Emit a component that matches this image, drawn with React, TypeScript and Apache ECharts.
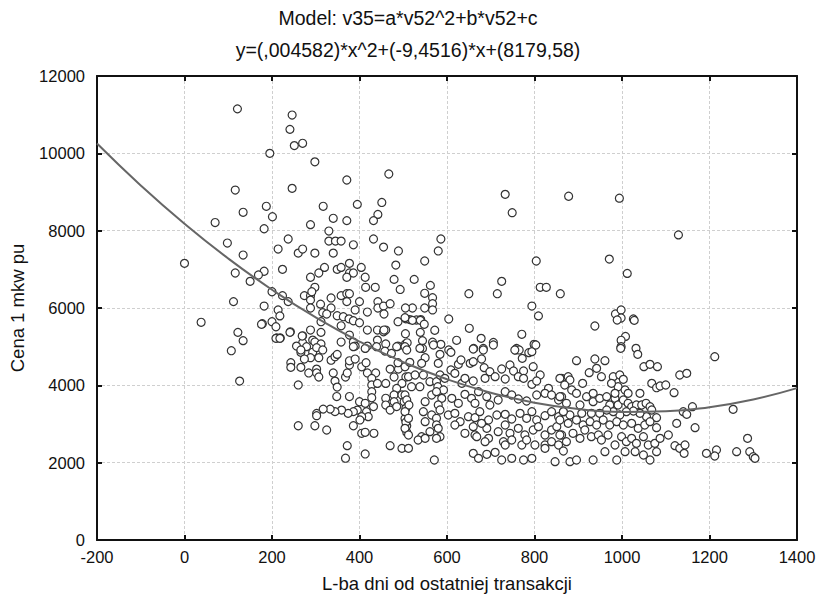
import React, { useEffect, useRef } from "react";
import * as echarts from "echarts";

const titleLine1 = "Model: v35=a*v52^2+b*v52+c";
const titleLine2 = "y=(,004582)*x^2+(-9,4516)*x+(8179,58)";
const xAxisName = "L-ba dni od ostatniej transakcji";
const yAxisName = "Cena 1 mkw pu";

// [days since last transaction, price per m2]
const upperPoints: [number, number][] = [
  [121,11150],[246,10990],[241,10620],[251,10200],[270,10260],[195,10000],[298,9780],[371,9310],[467,9465],[116,9050],[246,9095],[187,8630],[134,8475],[201,8360],[317,8630],[395,8680],[451,8730],[442,8420],[432,8260],[340,8320],[371,8260],[70,8210],[288,8155],[182,8050],[330,7990],[330,7730],[345,7730],[358,7730],[386,7635],[237,7785],[98,7680],[432,7785],[455,7575],[214,7525],[134,7370],[260,7420],[270,7525],[298,7420],[340,7420],[0,7155],[224,7000],[116,6905],[182,6950],[169,6855],[150,6690],[320,7050],[307,6905],[349,7000],[358,7050],[377,7155],[377,6905],[386,6905],[371,6795],[404,7050],[413,6795],[414,6535],[436,6535],[288,6795],[298,6535],[200,6420],[224,6320],[274,6320],[288,6320],[291,6420],[358,6320],[371,6370],[377,6370],[112,6165],[182,6050],[237,6165],[288,6205],[288,6000],[311,6100],[335,6260],[335,6000],[371,6165],[400,6165],[390,5950],[418,5895],[442,6165],[442,6000],[455,6050],[214,5950],[218,5795],
  [733,8940],[749,8465],[878,8890],[994,8840],[1129,7890],[586,7785],[580,7475],[489,7475],[483,7110],[549,7215],[804,7215],[971,7265],[1012,6895],[479,6740],[525,6740],[562,6585],[493,6480],[549,6380],[567,6265],[567,6110],[567,5950],[549,6000],[521,6000],[650,6370],[715,6370],[725,6690],[813,6535],[827,6535],[859,6370],[794,6050],[809,5795],[470,6110],[985,5845],[998,5950],[998,5740],[1026,5715],[604,5715],[515,5700],[530,5690],[540,5700],
];

const middlePoints: [number, number][] = [
  [505,6000],[316,5880],[325,5845],[349,5800],[363,5775],[376,5720],[386,5670],[400,5620],[488,5645],[506,5720],[178,5595],[200,5645],[312,5645],[358,5540],[242,5385],[288,5430],[312,5370],[270,5280],[211,5225],[219,5225],[293,5170],[298,5120],[312,5070],[358,5120],[377,5300],[386,5120],[418,5430],[441,5430],[455,5385],[460,5430],[441,5170],[460,5070],[505,5335],[505,5070],[488,5015],[418,5015],[390,5015],[274,5015],[270,5100],[256,5015],
  [504,5750],[521,5680],[539,5680],[548,5580],[572,5425],[539,5370],[509,5100],[544,5155],[567,5115],[586,5060],[544,4955],[651,5475],[678,5215],[706,5110],[622,5165],[771,5320],[799,5060],[661,4955],[683,4955],[759,4955],[604,4915],
  [989,5690],[1028,5680],[938,5535],[1008,5265],[998,5165],[998,5000],[456,5845],[456,5430],[757,4915],[765,4915],[787,4845],
  [38,5630],[122,5370],[134,5155],[107,4895],[126,4110],[176,5580],[209,5515],[209,5215],[218,5215],[241,5370],[269,5275],
];

const leftDensePoints: [number, number][] = [
  [266,4855],[279,5000],[293,4855],[302,4975],[316,4915],[307,4715],[288,4715],[274,4680],[266,4915],[243,4585],[243,4465],[266,4465],[284,4320],[302,4420],[302,4320],[307,4215],[335,4650],[344,4740],[349,4800],[340,4320],[344,4110],[349,3955],[368,4215],[372,4320],[377,4525],[377,4635],[390,4680],[386,5000],[413,4955],[439,5000],[458,4885],[473,4825],[485,5000],[504,5000],
  [405,4480],[415,4585],[418,4320],[437,4320],[428,4180],[428,4010],[428,3835],[428,3680],[441,4050],[460,4050],[470,4420],[479,4215],[489,4420],[488,4585],[504,4480],[506,4215],[497,4050],[485,3920],[479,3750],[497,3750],[502,3575],[479,3575],[460,3665],[460,3490],[470,3360],[485,3450],[506,3405],[504,3145],
  [260,4010],[348,3710],[377,3710],[400,3575],[413,3535],[432,3450],[416,3320],[420,3190],[395,3360],[386,3320],[374,3275],[359,3360],[344,3320],[333,3385],[317,3385],[302,3275],[302,3215],[405,3190],[401,3105],[386,2955],[405,2760],[413,2785],[433,2760],[260,2955],[298,2955],[325,2845],[372,2440],[413,2225],[368,2115],[470,2440],[497,2370],[508,2785],[508,2955],[506,3045],
];

const centerDensePoints: [number, number][] = [
  [508,4914],[538,4957],[550,4715],[569,5043],[584,4802],[609,4853],[660,4940],[683,4914],[706,5043],[755,4914],[772,4698],[794,4871],[803,5043],
  [515,4595],[542,4569],[580,4569],[609,4397],[626,4543],[632,4655],[653,4569],[660,4612],[679,4681],[685,4457],[698,4353],[725,4422],[744,4526],[752,4371],[775,4371],[797,4483],[813,4267],[862,4181],
  [512,4224],[527,4267],[546,4267],[561,4095],[576,4095],[584,4267],[595,4181],[618,4310],[634,4052],[641,4181],[660,4112],[687,4181],[710,4224],[733,4164],[763,4224],[775,4181],[794,4026],[805,4112],[832,3922],[538,3965],[519,3965],[579,3965],[592,3879],
  [504,3750],[508,3621],[513,3491],[550,3578],[565,3750],[576,3836],[588,3664],[580,3491],[611,3664],[641,3767],[656,3664],[672,3836],[691,3707],[698,3491],[717,3621],[733,3836],[748,3750],[763,3647],[782,3595],[805,3750],[824,3793],[839,3750],[855,3621],[862,3707],[664,3535],[626,3535],
  [504,3319],[512,3147],[546,3319],[550,3060],[565,3233],[576,3147],[584,3362],[603,3233],[618,3276],[630,3060],[649,3190],[664,3164],[675,3319],[695,3103],[714,3233],[733,3250],[748,3129],[767,3276],[782,3147],[794,3319],[805,3103],[824,3216],[839,3319],[855,3190],[866,3319],
  [504,2888],[512,2716],[542,2673],[561,2802],[576,2974],[584,2673],[618,2974],[641,2759],[660,2931],[664,2716],[691,2888],[695,2629],[717,2802],[733,2974],[744,2759],[763,2888],[778,2716],[797,2845],[809,2931],[824,2716],[839,2845],[851,2931],[862,2716],[580,2888],[679,3017],
  [512,2371],[534,2586],[550,2629],[576,2629],[668,2673],[687,2543],[729,2543],[733,2457],[748,2586],[771,2457],[782,2586],[801,2457],[824,2457],[839,2543],[855,2457],
  [660,2241],[672,2112],[691,2216],[710,2267],[725,2069],[748,2112],[775,2069],[794,2112],[824,2371],[847,2026],[571,2069],
];

const rightPoints: [number, number][] = [
  [997,4957],[1032,4957],[1036,4802],[896,4638],[938,4681],[961,4638],[942,4440],[925,4328],[953,4224],[1050,4483],[1064,4543],[1081,4483],[1132,4267],[1148,4310],[1212,4741],
  [858,4181],[877,4224],[881,4138],[869,4009],[910,4052],[980,4224],[995,4267],[1003,4155],[991,3965],[976,4052],[1007,3879],[1014,3793],[1068,4052],[1079,3939],[1087,3983],[1100,4009],[1119,3810],[1041,3793],
  [858,3707],[885,3879],[896,3793],[873,3535],[904,3491],[919,3707],[934,3793],[934,3578],[949,3664],[965,3707],[972,3491],[984,3664],[984,3793],[991,3491],[1003,3621],[1014,3535],[1022,3448],[1033,3491],[1045,3491],[1055,3535],[1064,3448],[1068,3362],[1079,3164],[1056,3190],[1041,3276],[1026,3336],[1010,3319],[995,3233],[980,3319],[965,3362],[949,3276],[930,3276],[908,3276],[881,3233],[866,3319],
  [858,3103],[877,3017],[896,3103],[911,2974],[927,3060],[942,2974],[957,3103],[972,2974],[988,3060],[1003,2974],[1022,3017],[1037,2888],[1052,2974],[1064,3060],[1079,2905],[1125,3017],[1140,3319],[1148,3250],[1161,3448],[1167,2905],[1254,3379],
  [858,2716],[873,2543],[888,2759],[904,2629],[915,2845],[930,2673],[946,2716],[953,2586],[968,2716],[984,2457],[999,2673],[1010,2543],[1022,2629],[1033,2500],[1049,2673],[1060,2457],[1075,2500],[1087,2629],[1106,2716],[1121,2440],[1132,2371],[1144,2457],[1142,2241],[1193,2241],[1216,2328],[1262,2285],[1287,2629],[1292,2285],[1300,2155],
  [866,2302],[881,2026],[896,2069],[934,2069],[961,2285],[988,2069],[1007,2285],[1030,2285],[1049,2198],[1064,2069],[1079,2285],[1212,2172],[1304,2112],
];

// fitted quadratic curve
const curveX = [-200, -100, 0, 100, 200, 300, 400, 500, 600, 700, 800, 900, 1000, 1100, 1200, 1300, 1400];
const curveY = [10254, 9171, 8180, 7280, 6473, 5756, 5132, 4599, 4158, 3809, 3551, 3385, 3310, 3327, 3436, 3636, 3928];

const xTicks = { min: -200, max: 1400, interval: 200 };
const yTicks = { min: 0, max: 12000, interval: 2000 };

const FONT = '"Liberation Sans", Arial, sans-serif';

export default function App() {
  const ref = useRef<HTMLDivElement>(null);
  useEffect(() => {
    if (!ref.current) return;
    const chart = echarts.init(ref.current, null, { renderer: "svg" });
    const allPoints = [...upperPoints, ...middlePoints, ...leftDensePoints, ...centerDensePoints, ...rightPoints];
    const curve = curveX.map((x, i) => [x, curveY[i]]);
    const splitLine = { show: true, lineStyle: { color: "#cfcfcf", type: [3, 2], width: 1 } };
    const axisLine = { show: true, onZero: false, lineStyle: { color: "#111", width: 2 } };
    const axisTick = { show: true, inside: true, length: 5, lineStyle: { color: "#111", width: 2 } };
    const plain = (v: number) => String(v);
    chart.setOption({
      animation: false,
      backgroundColor: "#fff",
      textStyle: { fontFamily: FONT },
      graphic: [
        { type: "text", x: 408, y: 18, style: { text: titleLine1, fontFamily: FONT, fontSize: 19.5, fill: "#111", textAlign: "center", textVerticalAlign: "middle" } },
        { type: "text", x: 408, y: 50, style: { text: titleLine2, fontFamily: FONT, fontSize: 19.5, fill: "#111", textAlign: "center", textVerticalAlign: "middle" } },
      ],
      grid: { left: 97, right: 21, top: 76, bottom: 63, containLabel: false, outerBoundsMode: "none" },
      xAxis: [
        {
          type: "value", position: "bottom", ...xTicks,
          name: xAxisName, nameLocation: "middle", nameGap: 34,
          nameTextStyle: { fontFamily: FONT, fontSize: 18.5, color: "#111" },
          axisLine, axisTick, splitLine,
          axisLabel: { fontFamily: FONT, fontSize: 16.5, color: "#111", margin: 8, formatter: plain },
        },
        {
          type: "value", position: "top", ...xTicks,
          axisLine, axisTick, splitLine: { show: false }, axisLabel: { show: false },
        },
      ],
      yAxis: [
        {
          type: "value", position: "left", ...yTicks,
          name: yAxisName, nameLocation: "middle", nameGap: 70,
          nameTextStyle: { fontFamily: FONT, fontSize: 18.5, color: "#111" },
          axisLine, axisTick, splitLine,
          axisLabel: { fontFamily: FONT, fontSize: 16.5, color: "#111", margin: 12, formatter: plain },
        },
        {
          type: "value", position: "right", ...yTicks,
          axisLine, axisTick, splitLine: { show: false }, axisLabel: { show: false },
        },
      ],
      series: [
        {
          type: "scatter",
          data: allPoints,
          symbol: "circle",
          symbolSize: 8,
          itemStyle: { color: "#fff", borderColor: "#333", borderWidth: 1.2, opacity: 1 },
          z: 2,
        },
        {
          type: "line",
          data: curve,
          smooth: true,
          showSymbol: false,
          lineStyle: { color: "#666", width: 2 },
          z: 3,
        },
      ],
    });
    return () => chart.dispose();
  }, []);
  return <div ref={ref} style={{ position: "fixed", left: 0, top: 0, width: 818, height: 603 }} />;
}
